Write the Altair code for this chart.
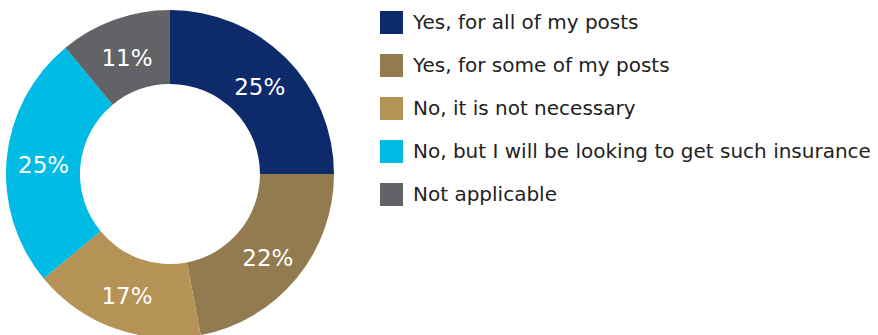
import altair as alt
import pandas as pd

categories = [
    "Yes, for all of my posts",
    "Yes, for some of my posts",
    "No, it is not necessary",
    "No, but I will be looking to get such insurance",
    "Not applicable",
]
values = [25, 22, 17, 25, 11]
colors = ["#0d2b6b", "#927b4e", "#b59356", "#00bbe4", "#626366"]

df = pd.DataFrame({
    "category": categories,
    "value": values,
    "order": list(range(len(categories))),
    "label": [f"{v}%" for v in values],
})

CX, CY = 170, 174

base = alt.Chart(df).encode(
    theta=alt.Theta("value:Q", stack=True),
    order=alt.Order("order:Q"),
)

arc = base.mark_arc(outerRadius=164, innerRadius=90, stroke=None).encode(
    x=alt.value(CX),
    y=alt.value(CY),
    color=alt.Color(
        "category:N",
        sort=categories,
        scale=alt.Scale(domain=categories, range=colors),
        legend=alt.Legend(
            title=None,
            orient="none",
            legendX=380,
            legendY=11,
            symbolType="square",
            symbolSize=529,
            symbolStrokeWidth=0,
            labelFontSize=20,
            labelFont="DejaVu Sans",
            labelColor="#222222",
            labelLimit=600,
            rowPadding=20,
            labelOffset=10,
        ),
    ),
)

text = base.mark_text(radius=127, dy=4, fontSize=23, font="DejaVu Sans", color="white").encode(
    x=alt.value(CX),
    y=alt.value(CY),
    text="label:N",
)

chart = (arc + text).properties(
    width=878, height=335, padding=0, autosize=alt.AutoSizeParams(type="none")
).configure_view(stroke=None).configure_legend(padding=0)

chart.save("out.html", embed_options={"renderer": "svg", "actions": False})
